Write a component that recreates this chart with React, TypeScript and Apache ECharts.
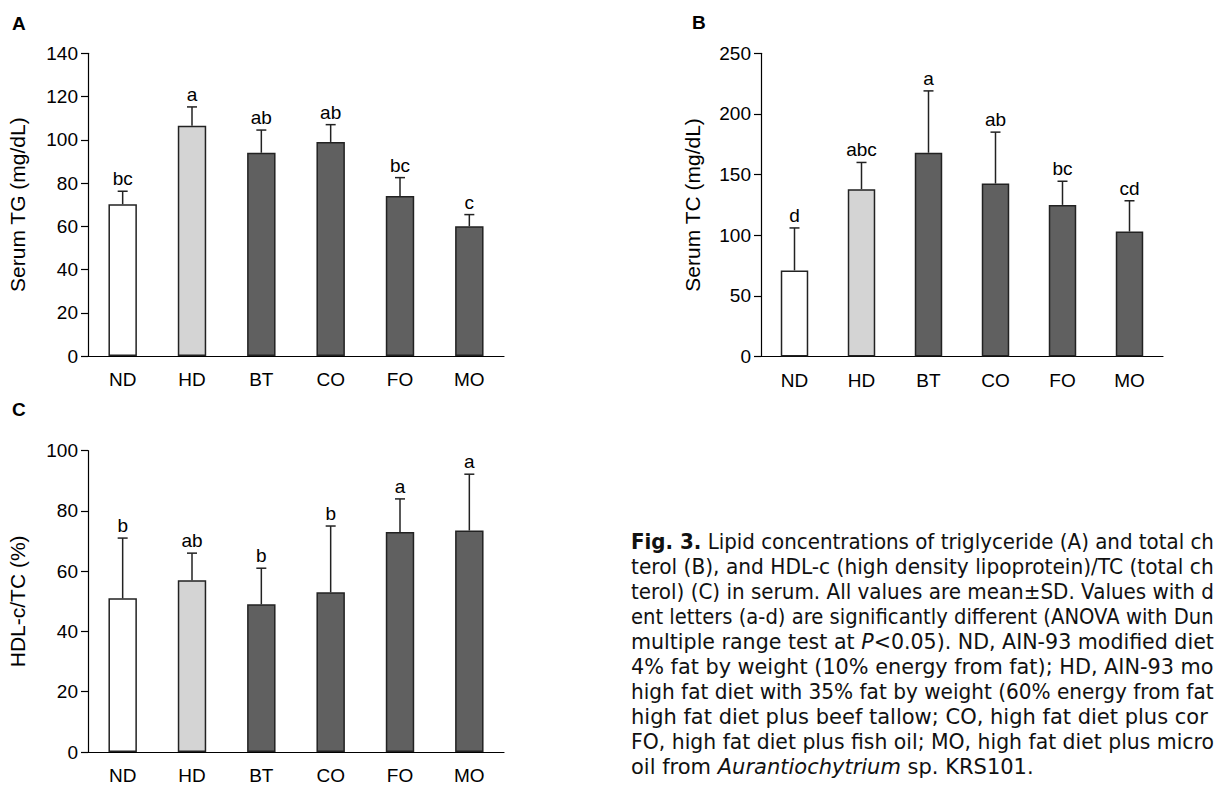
import React, { useEffect, useRef } from "react";
import * as echarts from "echarts";

const categories = ["ND", "HD", "BT", "CO", "FO", "MO"];
const barColors = ["#ffffff", "#d4d4d4", "#606060", "#606060", "#606060", "#606060"];

const tgMean = [70.2, 106.5, 94, 99, 74, 60];
const tgSd = [6, 8.7, 10.5, 8, 8.5, 5.4];
const tgLetters = ["bc", "a", "ab", "ab", "bc", "c"];

const tcMean = [71, 138, 168, 142.6, 125, 103];
const tcSd = [35, 22, 51, 42.4, 19.5, 25.4];
const tcLetters = ["d", "abc", "a", "ab", "bc", "cd"];

const hdlMean = [51, 57, 49, 53, 73, 73.5];
const hdlSd = [20, 9, 12, 22, 11, 18.7];
const hdlLetters = ["b", "ab", "b", "b", "a", "a"];

const FONT = "'Liberation Sans', Arial, sans-serif";
const CAP_FONT = "'DejaVu Sans', sans-serif";
const CAP_SIZE = 21;

const captionLines: string[] = [
  "{b|Fig. 3.} Lipid concentrations of triglyceride (A) and total ch",
  "terol (B), and HDL-c (high density lipoprotein)/TC (total ch",
  "terol) (C) in serum. All values are mean±SD. Values with d",
  "ent letters (a-d) are significantly different (ANOVA with Dun",
  "multiple range test at {i|P}<0.05). ND, AIN-93 modified diet",
  "4% fat by weight (10% energy from fat); HD, AIN-93 mo",
  "high fat diet with 35% fat by weight (60% energy from fat",
  "high fat diet plus beef tallow; CO, high fat diet plus cor",
  "FO, high fat diet plus fish oil; MO, high fat diet plus micro",
  "oil from {i|Aurantiochytrium} sp. KRS101.",
];

function measureLine(line: string): number {
  const canvas = document.createElement("canvas");
  const ctx = canvas.getContext("2d");
  if (!ctx) return 0;
  let total = 0;
  const re = /\{(b|i)\|([^}]*)\}/g;
  let last = 0;
  let m: RegExpExecArray | null;
  const seg = (txt: string, style: string) => {
    ctx.font = `${style}${CAP_SIZE}px ${CAP_FONT}`;
    total += ctx.measureText(txt).width;
  };
  while ((m = re.exec(line))) {
    if (m.index > last) seg(line.slice(last, m.index), "");
    seg(m[2], m[1] === "b" ? "bold " : "italic ");
    last = m.index + m[0].length;
  }
  if (last < line.length) seg(line.slice(last), "");
  return total;
}

export default function App() {
  const ref = useRef<HTMLDivElement>(null);
  useEffect(() => {
    if (!ref.current) return;
    const chart = echarts.init(ref.current, undefined, { renderer: "svg" });

    const grids = [
      { left: 88, top: 53.3, width: 416, height: 302.7 },
      { left: 761, top: 53.3, width: 402, height: 303.2 },
      { left: 88, top: 450.7, width: 416, height: 302.6 },
    ];
    const yNames = ["Serum TG (mg/dL)", "Serum TC (mg/dL)", "HDL-c/TC (%)"];
    const yMax = [140, 250, 100];
    const yInt = [20, 50, 20];
    const nameGaps = [60, 58, 60];
    const means = [tgMean, tcMean, hdlMean];
    const sds = [tgSd, tcSd, hdlSd];
    const letters = [tgLetters, tcLetters, hdlLetters];

    const xAxis = grids.map((_, k) => ({
      type: "category",
      gridIndex: k,
      data: categories,
      axisLine: { lineStyle: { color: "#000", width: 1.2 } },
      axisTick: { length: 7, lineStyle: { color: "#000", width: 1.2 } },
      axisLabel: { color: "#000", fontSize: 19, fontFamily: FONT, margin: 14 },
    }));
    const yAxis = grids.map((_, k) => ({
      type: "value",
      gridIndex: k,
      min: 0,
      max: yMax[k],
      interval: yInt[k],
      name: yNames[k],
      nameLocation: "middle",
      nameGap: nameGaps[k],
      nameTextStyle: { color: "#000", fontSize: 21, fontFamily: FONT },
      splitLine: { show: false },
      axisLine: { show: true, lineStyle: { color: "#000", width: 1.2 } },
      axisTick: { show: true, length: 7, lineStyle: { color: "#000", width: 1.2 } },
      axisLabel: { color: "#000", fontSize: 19, fontFamily: FONT, margin: 10 },
    }));

    const series: any[] = [];
    grids.forEach((_, k) => {
      series.push({
        type: "bar",
        xAxisIndex: k,
        yAxisIndex: k,
        barWidth: "41%",
        data: means[k].map((v, i) => ({
          value: v,
          itemStyle: { color: barColors[i], borderColor: "#222", borderWidth: 1.5 },
        })),
        z: 2,
      });
      const sdArr = sds[k];
      const letArr = letters[k];
      series.push({
        type: "custom",
        xAxisIndex: k,
        yAxisIndex: k,
        data: means[k].map((v, i) => [i, v, sdArr[i]]),
        encode: { x: 0, y: 1 },
        z: 3,
        renderItem: (params: any, api: any) => {
          const i = api.value(0);
          const m = api.value(1);
          const s = api.value(2);
          const base = api.coord([i, m]);
          const top = api.coord([i, m + s]);
          const cap = 5;
          return {
            type: "group",
            children: [
              {
                type: "line",
                shape: { x1: base[0], y1: base[1], x2: top[0], y2: top[1] },
                style: { stroke: "#222", lineWidth: 1.5 },
              },
              {
                type: "line",
                shape: { x1: top[0] - cap, y1: top[1], x2: top[0] + cap, y2: top[1] },
                style: { stroke: "#222", lineWidth: 1.5 },
              },
              {
                type: "text",
                x: top[0],
                y: top[1] - 3,
                style: {
                  text: letArr[params.dataIndex],
                  fill: "#000",
                  font: `19px ${FONT}`,
                  textAlign: "center",
                  textVerticalAlign: "bottom",
                },
              },
            ],
          };
        },
      });
    });

    const graphic: any[] = [
      { type: "text", left: 12, top: 14, style: { text: "A", font: `bold 19px ${FONT}`, fill: "#000" } },
      { type: "text", left: 692, top: 13, style: { text: "B", font: `bold 19px ${FONT}`, fill: "#000" } },
      { type: "text", left: 12, top: 400, style: { text: "C", font: `bold 19px ${FONT}`, fill: "#000" } },
    ];
    const capLeft = 631;
    const capRight = 1214;
    captionLines.forEach((line, idx) => {
      const w = measureLine(line);
      const avail = capRight - capLeft;
      const sx = w > avail ? avail / w : 1;
      graphic.push({
        type: "text",
        x: capLeft,
        y: 542 + idx * 25,
        scaleX: sx,
        style: {
          text: line,
          fill: "#111",
          font: `${CAP_SIZE}px ${CAP_FONT}`,
          textVerticalAlign: "middle",
          rich: {
            b: { fontWeight: "bold", fontFamily: CAP_FONT, fontSize: CAP_SIZE, fill: "#111" },
            i: { fontStyle: "italic", fontFamily: CAP_FONT, fontSize: CAP_SIZE, fill: "#111" },
          },
        },
      });
    });

    chart.setOption({
      animation: false,
      backgroundColor: "#fff",
      textStyle: { fontFamily: FONT },
      grid: grids,
      xAxis,
      yAxis,
      series,
      graphic,
    });
    return () => chart.dispose();
  }, []);

  return (
    <div
      ref={ref}
      style={{
        position: "fixed",
        left: 0,
        top: 0,
        width: 1218,
        height: 785,
        background: "#fff",
        overflow: "hidden",
      }}
    />
  );
}
